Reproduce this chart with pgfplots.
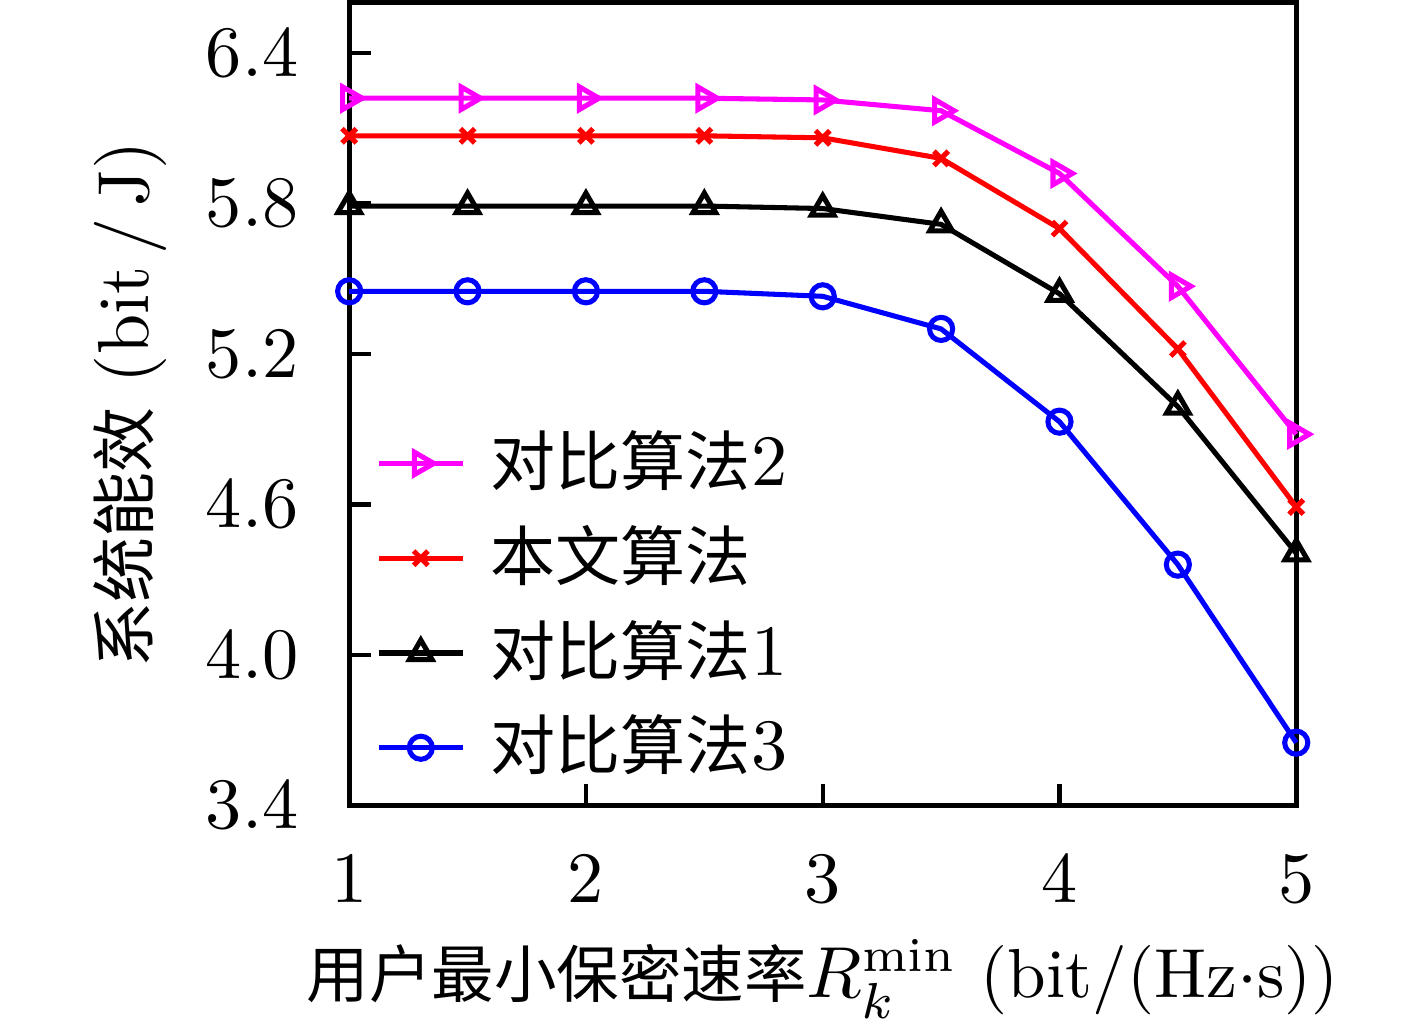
\documentclass[border=0pt]{standalone}
\usepackage{fontspec}
\newfontfamily\cjk[Scale=0.9]{Noto Sans CJK SC}
\usepackage{pgfplots}
\pgfplotsset{compat=1.18}
\definecolor{mag}{RGB}{255,0,255}
\definecolor{rd}{RGB}{255,0,0}
\definecolor{bl}{RGB}{0,0,255}
\begin{document}
\begin{tikzpicture}
\begin{axis}[
  scale only axis,
  width=131pt, height=111pt,
  xmin=1, xmax=5, ymin=3.4, ymax=6.6,
  xtick={1,2,3,4,5},
  ytick={3.4,4.0,4.6,5.2,5.8,6.4},
  yticklabel style={/pgf/number format/fixed,/pgf/number format/fixed zerofill,/pgf/number format/precision=1, xshift=-3.5pt},
  xticklabel style={yshift=-3.5pt},
  tick align=inside,
  xtick pos=bottom, ytick pos=left,
  major tick length=3pt,
  axis line style={line width=0.7pt},
  tick style={line width=0.6pt, black},
  clip=false,
  xlabel={{\cjk 用户最小保密速率}$R_k^{\min}$ (bit/(Hz$\cdot$s))},
  ylabel={{\cjk 系统能效} (bit\,/\,J)},
  xlabel style={yshift=1.8pt, font=\fontsize{9.6pt}{11pt}\selectfont},
  ylabel style={yshift=-1.4pt},
  legend style={at={(0.004,0.505)}, anchor=north west, draw=none, fill=none, row sep=0pt, font=\normalsize,
    nodes={inner xsep=3.5pt}},
  legend cell align=left,
  legend image code/.code={\draw[mark repeat=2,mark phase=2] plot coordinates {(0cm,0cm)(0.205cm,0cm)(0.41cm,0cm)};},
  every axis plot/.append style={line width=0.7pt},
]
\addplot[mag, mark=triangle, mark options={rotate=-90, solid}, mark size=1.8pt] coordinates {
(1,6.22)(1.5,6.22)(2,6.22)(2.5,6.22)(3,6.213)(3.5,6.17)(4,5.92)(4.5,5.47)(5,4.88)};
\addlegendentry{{\cjk 对比算法}2}
\addplot[rd, mark=x, mark size=1.4pt] coordinates {
(1,6.07)(1.5,6.07)(2,6.07)(2.5,6.07)(3,6.062)(3.5,5.98)(4,5.70)(4.5,5.22)(5,4.59)};
\addlegendentry{{\cjk 本文算法}}
\addplot[black, mark=triangle, mark size=1.8pt] coordinates {
(1,5.79)(1.5,5.79)(2,5.79)(2.5,5.79)(3,5.78)(3.5,5.717)(4,5.44)(4.5,4.99)(5,4.405)};
\addlegendentry{{\cjk 对比算法}1}
\addplot[bl, mark=o, mark size=1.6pt] coordinates {
(1,5.45)(1.5,5.45)(2,5.45)(2.5,5.45)(3,5.43)(3.5,5.30)(4,4.93)(4.5,4.36)(5,3.65)};
\addlegendentry{{\cjk 对比算法}3}
\end{axis}
\pgfresetboundingbox
\path[use as bounding box] ([xshift=-48.3pt,yshift=-30.6pt]current axis.south west) rectangle ([xshift=16.7pt,yshift=0.4pt]current axis.north east);
\end{tikzpicture}
\end{document}
